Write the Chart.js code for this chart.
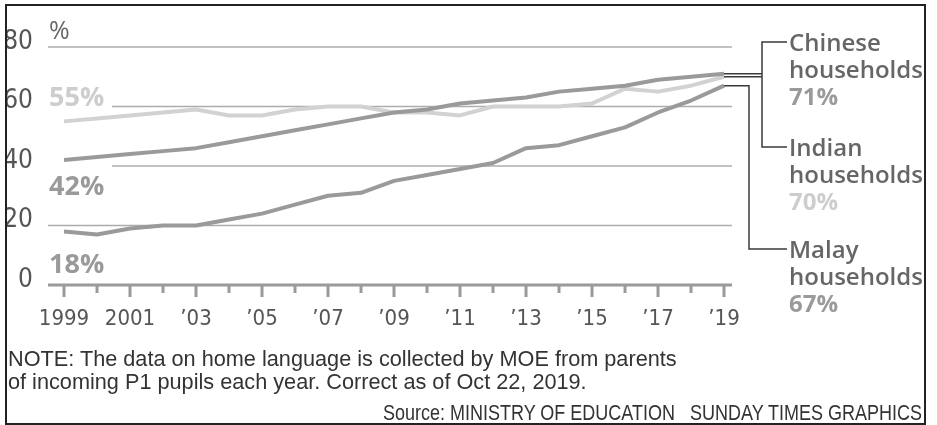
<!DOCTYPE html>
<html>
<head>
<meta charset="utf-8">
<script src="https://cdn.jsdelivr.net/npm/chart.js@4.4.0/dist/chart.umd.min.js"></script>
<style>
  html, body { margin: 0; padding: 0; background: #fff; }
  body { width: 937px; height: 425px; position: relative; overflow: hidden; }
  #clip { position: absolute; left: 7px; top: 6px; width: 917px; height: 417px; overflow: hidden; }
  #clip canvas { position: absolute; left: -7px; top: -6px; }
  #frame { position: absolute; left: 5px; top: 4px; width: 917px; height: 417px; border: 2px solid #222; pointer-events: none; }
  .t { position: absolute; white-space: nowrap; }
  .unit { left: 49px; top: 14px; font: 400 25px/30px "Open Sans", sans-serif; color: #666; }
  .start { left: 49px; font: 700 27px/30px "Open Sans", sans-serif; }
  .lab { left: 789px; font: 600 24px/27px "Open Sans", sans-serif; color: #666; }
  .lab b { font-weight: 700; }
  .note { left: 8px; font: 400 21.7px/23px "Liberation Sans", sans-serif; color: #333; }
  .src { left: 383px; top: 402px; font: 400 21.5px/23px "Liberation Sans", sans-serif; color: #333; transform-origin: 0 50%; }
</style>
</head>
<body>
<div id="clip"><canvas id="c" width="937" height="425"></canvas></div>
<div id="frame"></div>

<div class="t unit">%</div>
<div class="t start" style="top:81px;color:#cdcdcd">55%</div>
<div class="t start" style="top:170px;color:#9a9a9a">42%</div>
<div class="t start" style="top:248px;color:#9a9a9a">18%</div>

<div class="t lab" style="top:28px">Chinese<br>households<br><b style="color:#9a9a9a">71%</b></div>
<div class="t lab" style="top:133px">Indian<br>households<br><b style="color:#cdcdcd">70%</b></div>
<div class="t lab" style="top:235px">Malay<br>households<br><b style="color:#9a9a9a">67%</b></div>

<div class="t note" style="top:347px">NOTE: The data on home language is collected by MOE from parents</div>
<div class="t note" style="top:370px">of incoming P1 pupils each year. Correct as of Oct 22, 2019.</div>
<div class="t src" id="src">Source: MINISTRY OF EDUCATION&nbsp;&nbsp;&nbsp;SUNDAY TIMES GRAPHICS</div>

<script>
// ---- data ----
const years = [1999,2000,2001,2002,2003,2004,2005,2006,2007,2008,2009,2010,2011,2012,2013,2014,2015,2016,2017,2018,2019];
const xTickLabels = ['1999','','2001','','\u201903','','\u201905','','\u201907','','\u201909','','\u201911','','\u201913','','\u201915','','\u201917','','\u201919'];
const chinese = [42,43,44,45,46,48,50,52,54,56,58,59,61,62,63,65,66,67,69,70,71];
const indian  = [55,56,57,58,59,57,57,59,60,60,58,58,57,60,60,60,61,66,65,67,70];
const malay   = [18,17,19,20,20,22,24,27,30,31,35,37,39,41,46,47,50,53,58,62,67];
const yTicks = [0,20,40,60,80];
const gapValues = [40,60];

// fit the condensed source line to its width in the original
(function () {
  const el = document.getElementById('src');
  const w = el.getBoundingClientRect().width;
  el.style.transform = 'scaleX(' + (539 / w) + ')';
})();

const pts = arr => years.map((yr, i) => ({ x: yr, y: arr[i] }));

const lineStyle = { borderWidth: 4, pointRadius: 0, tension: 0, borderCapStyle: 'butt', borderJoinStyle: 'round', fill: false };

const gridPlugin = {
  id: 'customGrid',
  beforeDatasetsDraw(chart) {
    const { ctx, chartArea: a, scales: { x, y } } = chart;
    ctx.save();
    ctx.lineCap = 'butt';
    yTicks.forEach(v => {
      if (v === 0) return;
      const py = y.getPixelForValue(v);
      const sx = gapValues.includes(v) ? a.left + 64 : a.left;
      ctx.strokeStyle = '#acacac';
      ctx.lineWidth = 1.6;
      ctx.beginPath(); ctx.moveTo(sx, py); ctx.lineTo(a.right, py); ctx.stroke();
    });
    const by = y.getPixelForValue(0);
    ctx.strokeStyle = '#9a9a9a';
    ctx.lineWidth = 3;
    years.forEach((yr, i) => {
      const px = x.getPixelForValue(yr);
      const len = xTickLabels[i] ? 12 : 8;
      ctx.beginPath(); ctx.moveTo(px, by); ctx.lineTo(px, by + len); ctx.stroke();
    });
    ctx.beginPath(); ctx.moveTo(a.left, by); ctx.lineTo(a.right, by); ctx.stroke();
    ctx.restore();
  }
};

const connectorPlugin = {
  id: 'connectors',
  afterDatasetsDraw(chart) {
    const { ctx, chartArea: a } = chart;
    const end = i => { const d = chart.getDatasetMeta(i).data; return d[d.length - 1]; };
    const c = end(0), m = end(1), n = end(2);
    const bx = a.right + 30, mx = a.right + 17, lx = a.right + 55;
    const yC = 42, yI = 147, yM = 249;
    ctx.save();
    ctx.strokeStyle = '#3a3a3a';
    ctx.lineWidth = 1.5;
    ctx.lineCap = 'butt';
    ctx.beginPath();
    ctx.moveTo(c.x, c.y); ctx.lineTo(bx, c.y);
    ctx.moveTo(n.x, n.y); ctx.lineTo(bx, n.y);
    ctx.moveTo(lx, yC); ctx.lineTo(bx, yC); ctx.lineTo(bx, yI); ctx.lineTo(lx, yI);
    ctx.moveTo(m.x, m.y); ctx.lineTo(mx, m.y); ctx.lineTo(mx, yM); ctx.lineTo(lx, yM);
    ctx.stroke();
    ctx.restore();
  }
};

new Chart(document.getElementById('c'), {
  type: 'line',
  data: {
    datasets: [
      { label: 'Chinese households', data: pts(chinese), borderColor: '#9a9a9a', ...lineStyle },
      { label: 'Malay households', data: pts(malay), borderColor: '#9a9a9a', ...lineStyle },
      { label: 'Indian households', data: pts(indian), borderColor: '#d2d2d2', ...lineStyle }
    ]
  },
  options: {
    responsive: false,
    animation: false,
    layout: { padding: { top: 47, right: 205, bottom: 0, left: 0 } },
    plugins: { legend: { display: false }, tooltip: { enabled: false } },
    scales: {
      x: {
        type: 'linear',
        min: 1998.515,
        max: 2019.242,
        grid: { display: false, drawTicks: false },
        border: { display: false },
        afterBuildTicks: s => { s.ticks = years.map(v => ({ value: v })); },
        afterFit: s => { s.height = 140; },
        ticks: {
          autoSkip: false,
          maxRotation: 0,
          padding: 21,
          color: '#555',
          font: { family: '"Liberation Sans Narrow", "DejaVu Sans Condensed", sans-serif', size: 22 },
          callback: v => { const i = years.indexOf(v); return i >= 0 ? xTickLabels[i] : ''; }
        }
      },
      y: {
        min: 0,
        max: 80,
        grid: { display: false, drawTicks: false },
        border: { display: false },
        afterBuildTicks: s => { s.ticks = yTicks.map(v => ({ value: v })); },
        afterFit: s => { s.width = 48; },
        ticks: {
          padding: 15,
          labelOffset: -5,
          color: '#555',
          font: { family: '"Liberation Sans Narrow", "DejaVu Sans Condensed", sans-serif', size: 26 },
          callback: v => String(v)
        }
      }
    }
  },
  plugins: [gridPlugin, connectorPlugin]
});
</script>
</body>
</html>
